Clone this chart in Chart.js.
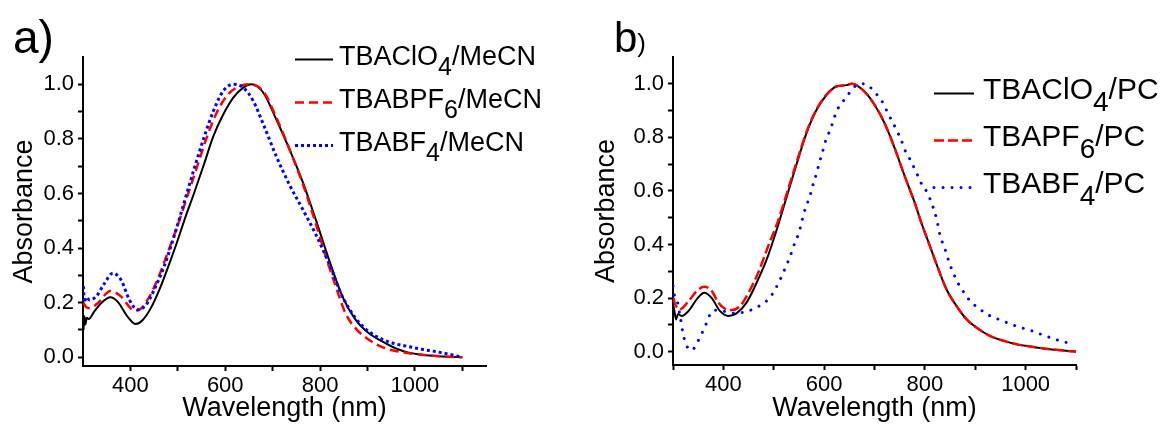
<!DOCTYPE html>
<html>
<head>
<meta charset="utf-8">
<script src="https://cdn.jsdelivr.net/npm/chart.js@4.4.1/dist/chart.umd.min.js"></script>
<style>
  body { margin: 0; background: #fff; width: 1161px; height: 425px; position: relative; overflow: hidden; }
  canvas { position: absolute; top: 0; }
  #chart-a { left: 0; }
  #chart-b { left: 580px; }
  .tag { position: absolute; line-height: 1; color: #000; font-family: "Liberation Sans", Arial, sans-serif; }
</style>
</head>
<body>
<canvas id="chart-a" width="580" height="425"></canvas>
<canvas id="chart-b" width="581" height="425"></canvas>
<div class="tag" style="left:13px; top:14px; font-size:46px;">a)</div>
<div class="tag" style="left:614px; top:17px; font-size:42px;">b<span style="font-size:26px;">)</span></div>
<script>
const FONT = '"Liberation Sans", Arial, sans-serif';

// axis ticks
const wlTicksA = [400, 500, 600, 700, 800, 900, 1000, 1100];
const wlTicksB = [300, 400, 500, 600, 700, 800, 900, 1000, 1100];
const absTicks = [0, 0.1, 0.2, 0.3, 0.4, 0.5, 0.6, 0.7, 0.8, 0.9, 1.0];

// legend labels: [text, subscript, text]
const labelsA = [['TBAClO', '4', '/MeCN'], ['TBABPF', '6', '/MeCN'], ['TBABF', '4', '/MeCN']];
const labelsB = [['TBAClO', '4', '/PC'], ['TBAPF', '6', '/PC'], ['TBABF', '4', '/PC']];

// panel a) MeCN
const aClO4X = [301, 303, 305, 308, 312, 324, 338, 358, 373, 394, 411, 425, 443, 464, 485, 499, 513, 534, 555, 575, 596, 617, 638, 655, 680, 708, 736, 764, 791, 819, 847, 875, 903, 931, 959, 987, 1015, 1043, 1070, 1100];
const aClO4Y = [0.10, 0.15, 0.12, 0.145, 0.14, 0.168, 0.198, 0.22, 0.204, 0.149, 0.122, 0.135, 0.18, 0.26, 0.357, 0.425, 0.498, 0.60, 0.706, 0.81, 0.89, 0.951, 0.988, 1.0, 0.97, 0.87, 0.76, 0.64, 0.504, 0.357, 0.223, 0.137, 0.088, 0.058, 0.033, 0.017, 0.009, 0.005, 0.002, 0.0];
const aPF6X = [301, 306, 314, 331, 358, 380, 405, 415, 436, 457, 478, 499, 520, 541, 562, 582, 603, 624, 649, 680, 708, 736, 764, 791, 812, 833, 854, 875, 903, 931, 959, 987, 1015, 1043, 1070, 1100];
const aPF6Y = [0.20, 0.185, 0.18, 0.198, 0.243, 0.223, 0.174, 0.172, 0.21, 0.284, 0.38, 0.48, 0.59, 0.70, 0.81, 0.896, 0.957, 0.988, 1.0, 0.975, 0.877, 0.76, 0.633, 0.49, 0.37, 0.26, 0.16, 0.106, 0.064, 0.037, 0.023, 0.015, 0.009, 0.005, 0.002, 0.0];
const aBF4X = [301, 303, 306, 314, 328, 345, 363, 380, 398, 415, 432, 450, 471, 492, 513, 534, 555, 575, 596, 617, 638, 659, 680, 708, 736, 764, 791, 819, 847, 875, 903, 931, 959, 987, 1015, 1043, 1070, 1100];
const aBF4Y = [0.26, 0.20, 0.22, 0.21, 0.223, 0.27, 0.308, 0.284, 0.21, 0.174, 0.19, 0.247, 0.333, 0.443, 0.565, 0.688, 0.804, 0.902, 0.976, 1.0, 0.988, 0.939, 0.855, 0.735, 0.63, 0.54, 0.45, 0.343, 0.223, 0.143, 0.094, 0.066, 0.049, 0.039, 0.029, 0.021, 0.012, 0.0];

// panel b) PC
const bClO4X = [301, 303, 306, 310, 317, 331, 347, 362, 377, 393, 410, 426, 446, 466, 486, 506, 525, 545, 565, 585, 605, 624, 644, 655, 680, 700, 720, 740, 760, 780, 793, 810, 827, 843, 863, 883, 903, 930, 957, 983, 1010, 1040, 1070, 1100];
const bClO4Y = [0.17, 0.15, 0.12, 0.14, 0.133, 0.152, 0.195, 0.22, 0.20, 0.152, 0.133, 0.143, 0.183, 0.257, 0.344, 0.456, 0.574, 0.698, 0.816, 0.903, 0.959, 0.99, 0.995, 1.0, 0.971, 0.922, 0.853, 0.76, 0.655, 0.555, 0.481, 0.394, 0.307, 0.232, 0.17, 0.12, 0.089, 0.058, 0.04, 0.027, 0.019, 0.011, 0.005, 0.0];
const bPF6X = [301, 303, 314, 331, 347, 362, 377, 390, 403, 417, 433, 450, 469, 489, 509, 525, 545, 565, 585, 605, 624, 644, 655, 680, 700, 720, 740, 760, 780, 793, 810, 827, 843, 863, 883, 903, 930, 957, 983, 1010, 1040, 1070, 1100];
const bPF6Y = [0.20, 0.183, 0.158, 0.189, 0.226, 0.242, 0.226, 0.183, 0.16, 0.155, 0.17, 0.22, 0.294, 0.394, 0.49, 0.585, 0.705, 0.82, 0.905, 0.96, 0.99, 0.995, 1.0, 0.971, 0.922, 0.853, 0.76, 0.655, 0.555, 0.481, 0.394, 0.307, 0.232, 0.17, 0.12, 0.089, 0.058, 0.04, 0.027, 0.019, 0.011, 0.005, 0.0];
const bBF4X = [300, 304, 308, 314, 321, 329, 336, 343, 350, 358, 365, 372, 378, 390, 407, 423, 443, 461, 476, 489, 499, 508, 516, 523, 530, 537, 543, 550, 555, 560, 567, 573, 578, 585, 590, 596, 601, 608, 615, 621, 629, 639, 649, 657, 670, 680, 693, 705, 717, 727, 737, 745, 753, 760, 769, 778, 786, 794, 805, 812, 820, 825, 829, 835, 842, 848, 855, 862, 870, 880, 890, 902, 917, 930, 947, 963, 980, 997, 1013, 1030, 1060, 1095];
const bBF4Y = [0.245, 0.20, 0.19, 0.133, 0.058, 0.015, 0.005, 0.015, 0.04, 0.071, 0.10, 0.133, 0.152, 0.155, 0.148, 0.143, 0.148, 0.16, 0.176, 0.195, 0.22, 0.251, 0.282, 0.313, 0.344, 0.379, 0.412, 0.443, 0.48, 0.518, 0.555, 0.589, 0.624, 0.665, 0.702, 0.739, 0.776, 0.81, 0.843, 0.878, 0.913, 0.938, 0.963, 0.984, 0.998, 1.0, 0.984, 0.959, 0.928, 0.888, 0.853, 0.822, 0.791, 0.754, 0.723, 0.689, 0.657, 0.624, 0.593, 0.561, 0.518, 0.481, 0.443, 0.406, 0.371, 0.334, 0.30, 0.27, 0.242, 0.214, 0.189, 0.168, 0.148, 0.133, 0.12, 0.108, 0.096, 0.086, 0.077, 0.065, 0.045, 0.027];

const pts = (xs, ys) => xs.map((x, i) => ({ x, y: ys[i] }));

// legend drawn inside the plot, with subscripts
const inlineLegend = {
  id: 'inlineLegend',
  afterDraw(chart, args, opts) {
    const ctx = chart.ctx;
    chart.data.datasets.forEach((ds, i) => {
      const y = opts.y + i * opts.dy;
      ctx.save();
      ctx.strokeStyle = ds.borderColor;
      ctx.lineWidth = ds.borderWidth;
      ctx.lineCap = ds.borderCapStyle || 'butt';
      ctx.setLineDash(ds.borderDash || []);
      ctx.beginPath();
      ctx.moveTo(opts.x, y);
      ctx.lineTo(opts.x + opts.len, y);
      ctx.stroke();
      ctx.setLineDash([]);

      const [pre, sub, post] = opts.labels[i];
      const base = y + opts.base;
      let tx = opts.x + opts.len + opts.gap;
      ctx.fillStyle = '#000';
      ctx.textBaseline = 'alphabetic';
      ctx.font = opts.size + 'px ' + FONT;
      ctx.fillText(pre, tx, base);
      tx += ctx.measureText(pre).width;
      ctx.font = opts.subSize + 'px ' + FONT;
      ctx.fillText(sub, tx, base + opts.drop);
      tx += ctx.measureText(sub).width;
      ctx.font = opts.size + 'px ' + FONT;
      ctx.fillText(post, tx, base);
      ctx.restore();
    });
  }
};

function makePanel(id, p) {
  return new Chart(document.getElementById(id), {
    type: 'line',
    data: { datasets: p.datasets },
    options: {
      responsive: false,
      animation: false,
      events: [],
      layout: { padding: p.padding },
      elements: { point: { radius: 0 }, line: { cubicInterpolationMode: 'monotone' } },
      plugins: {
        legend: { display: false },
        tooltip: { enabled: false },
        inlineLegend: p.legend
      },
      scales: {
        x: {
          type: 'linear',
          min: p.xMin,
          max: p.xMax,
          afterFit: s => { s.height = p.xHeight; },
          afterBuildTicks: s => { s.ticks = p.xTicks.map(v => ({ value: v })); },
          ticks: {
            autoSkip: false, maxRotation: 0, padding: 2, color: '#000',
            font: { family: FONT, size: 22 },
            callback: v => (v % 200 === 0 ? String(v) : '')
          },
          grid: { drawOnChartArea: false, tickLength: 5, tickWidth: 2, tickColor: '#000' },
          border: { color: '#000', width: 2 },
          title: { display: true, text: 'Wavelength (nm)', color: '#000', padding: 0, font: { family: FONT, size: 27 } }
        },
        y: {
          min: p.yMin,
          max: 1.1,
          afterFit: s => { s.width = p.yWidth; },
          afterBuildTicks: s => { s.ticks = absTicks.map(v => ({ value: v })); },
          ticks: {
            autoSkip: false, padding: 4, color: '#000',
            font: { family: FONT, size: 22 },
            callback: v => (Math.round(v * 10) % 2 === 0 ? v.toFixed(1) : '')
          },
          grid: { drawOnChartArea: false, tickLength: 5, tickWidth: 2, tickColor: '#000' },
          border: { color: '#000', width: 2 },
          title: { display: true, text: 'Absorbance', color: '#000', padding: { top: p.yTitlePad, bottom: 0 }, font: { family: FONT, size: 27 } }
        }
      }
    },
    plugins: [inlineLegend]
  });
}

makePanel('chart-a', {
  xMin: 300, xMax: 1150, yMin: -0.032, xTicks: wlTicksA,
  yWidth: 83, xHeight: 59, yTitlePad: 8,
  padding: { left: 0, top: 57, right: 94, bottom: 0 },
  legend: { x: 295, y: 59.5, dy: 43, len: 38, gap: 6, base: 5.7, size: 27, subSize: 25, drop: 10, labels: labelsA },
  datasets: [
    { data: pts(aClO4X, aClO4Y), borderColor: '#000000', borderWidth: 2, order: 3 },
    { data: pts(aPF6X, aPF6Y), borderColor: '#ff0000', borderWidth: 2.5, borderDash: [9, 5], order: 2 },
    { data: pts(aBF4X, aBF4Y), borderColor: '#0000ff', borderWidth: 3, borderDash: [3, 3], order: 1 }
  ]
});

makePanel('chart-b', {
  xMin: 300, xMax: 1100, yMin: -0.05, xTicks: wlTicksB,
  yWidth: 93, xHeight: 60, yTitlePad: 10,
  padding: { left: 0, top: 57, right: 85, bottom: 0 },
  legend: { x: 354, y: 93.5, dy: 47, len: 40, gap: 9, base: 5.5, size: 30, subSize: 28, drop: 12, labels: labelsB },
  datasets: [
    { data: pts(bClO4X, bClO4Y), borderColor: '#000000', borderWidth: 2, order: 3 },
    { data: pts(bPF6X, bPF6Y), borderColor: '#ff0000', borderWidth: 2.5, borderDash: [10, 4], order: 2 },
    { data: pts(bBF4X, bBF4Y), borderColor: '#0000ff', borderWidth: 3, borderDash: [0.01, 9], borderCapStyle: 'round', order: 1 }
  ]
});
</script>
</body>
</html>
